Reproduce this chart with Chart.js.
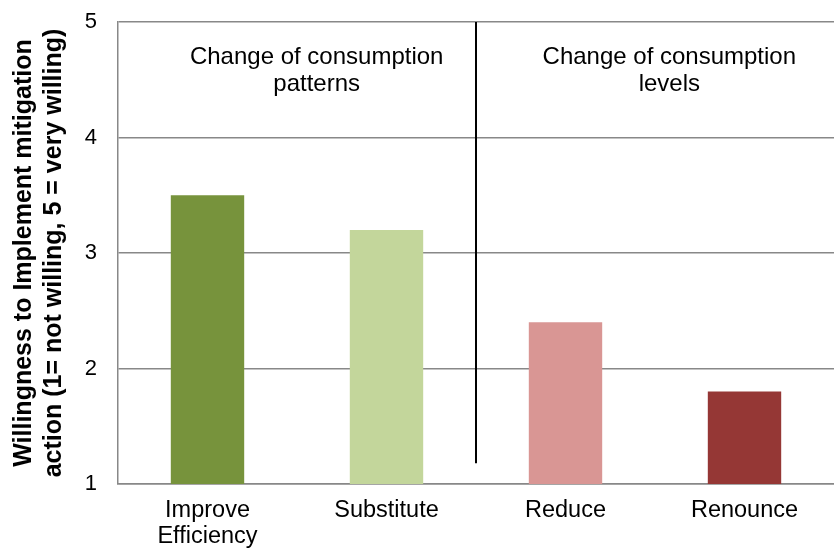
<!DOCTYPE html>
<html>
<head>
<meta charset="utf-8">
<script src="https://cdn.jsdelivr.net/npm/chart.js@4.4.0/dist/chart.umd.min.js"></script>
<style>
  html, body { margin: 0; padding: 0; background: #fff; }
  #wrap { width: 834px; height: 550px; }
</style>
</head>
<body>
<div id="wrap"><canvas id="chart"></canvas></div>
<script>
const categories = [['Improve', 'Efficiency'], 'Substitute', 'Reduce', 'Renounce'];
const willingness = [3.5, 3.2, 2.4, 1.8];
const barColors = ['#77933C', '#C3D69B', '#D99694', '#953735'];
const yTicks = [1, 2, 3, 4, 5];
const groupLabels = [
    { lines: ['Change of consumption', 'patterns'], at: 0.61 },
    { lines: ['Change of consumption', 'levels'], at: 2.58 }
];

const FONT = '"Liberation Sans", Arial, sans-serif';

// draws the divider line and the two group headings
const groupPlugin = {
    id: 'groups',
    afterDatasetsDraw(chart) {
        const ctx = chart.ctx;
        const x = chart.scales.x;
        const y = chart.scales.y;
        ctx.save();
        const lx = x.getPixelForValue(1.5);
        ctx.strokeStyle = '#000';
        ctx.lineWidth = 2;
        ctx.beginPath();
        ctx.moveTo(lx, y.getPixelForValue(5));
        ctx.lineTo(lx, y.getPixelForValue(1.18));
        ctx.stroke();

        ctx.fillStyle = '#000';
        ctx.font = '24px ' + FONT;
        ctx.textAlign = 'center';
        ctx.textBaseline = 'middle';
        groupLabels.forEach(g => {
            const cx = x.getPixelForValue(g.at);
            g.lines.forEach((t, i) => {
                ctx.fillText(t, cx, y.getPixelForValue(5) + 35 + i * 27);
            });
        });
        ctx.restore();
    }
};

new Chart(document.getElementById('chart').getContext('2d'), {
    type: 'bar',
    data: {
        labels: categories,
        datasets: [{
            data: willingness,
            backgroundColor: barColors,
            borderWidth: 0,
            barPercentage: 0.41,
            categoryPercentage: 1
        }]
    },
    options: {
        responsive: true,
        maintainAspectRatio: false,
        animation: false,
        layout: { padding: { top: 22, right: 0, bottom: 0, left: 0 } },
        plugins: {
            legend: { display: false },
            tooltip: { enabled: false }
        },
        scales: {
            x: {
                afterFit: axis => { axis.height = 66; },
                grid: { display: false, drawTicks: false },
                border: { display: true, color: '#888', width: 1.5 },
                ticks: {
                    color: '#000',
                    padding: 14,
                    maxRotation: 0,
                    font: { family: FONT, size: 23.5, lineHeight: 1.1 }
                }
            },
            y: {
                min: 1,
                max: 5,
                afterBuildTicks: axis => { axis.ticks = yTicks.map(v => ({ value: v })); },
                // fixed axis box; tick padding would otherwise push the plot top down
                afterFit: axis => {
                    axis.width = 118;
                    axis.paddingTop = 0;
                    axis.paddingBottom = 0;
                },
                grid: { color: '#888', lineWidth: 1.5, drawTicks: false },
                border: { display: true, color: '#888', width: 1.5 },
                ticks: {
                    color: '#000',
                    padding: 21,
                    font: { family: FONT, size: 22 }
                },
                title: {
                    display: true,
                    text: ['Willingness to Implement mitigation', 'action (1= not willing, 5 = very willing)'],
                    color: '#000',
                    padding: { top: 9, bottom: 0 },
                    font: { family: FONT, size: 25, weight: 'bold', lineHeight: 1.2 }
                }
            }
        }
    },
    plugins: [groupPlugin]
});
</script>
</body>
</html>
